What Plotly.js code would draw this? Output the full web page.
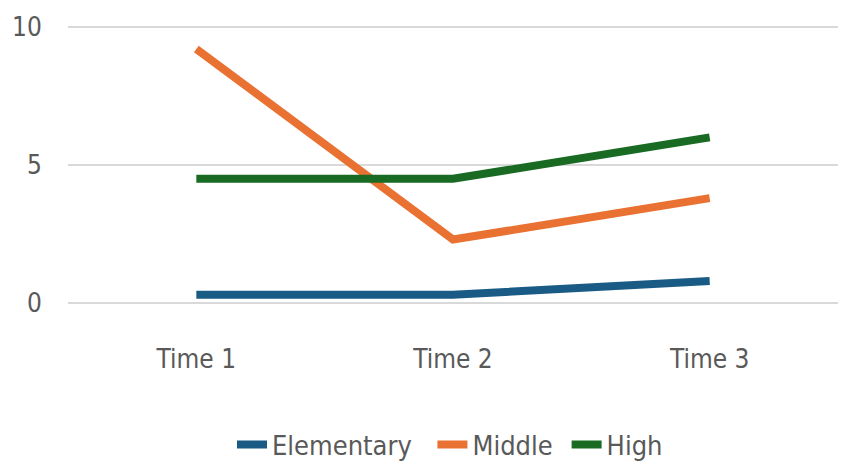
<!DOCTYPE html>
<html>
<head>
<meta charset="utf-8">
<script src="https://cdn.plot.ly/plotly-3.0.1.min.js"></script>
<style>
html,body{margin:0;padding:0;background:#fff;}
#chart{width:841px;height:466px;}
#chart text{font-stretch:condensed !important;}
</style>
</head>
<body>
<div id="chart"></div>
<script>
const categories = ["Time 1", "Time 2", "Time 3"];
const elementary = [0.3, 0.3, 0.8];
const middle = [9.2, 2.3, 3.8];
const high = [4.5, 4.5, 6.0];
const seriesNames = ["Elementary", "Middle", "High"];
const seriesColors = ["#1A5B85", "#E97132", "#196B24"];

const FONT = '"DejaVu Sans", sans-serif';
const values = [elementary, middle, high];
const traces = values.map((v, i) => ({
  x: categories, y: v, type: 'scatter', mode: 'lines', name: seriesNames[i],
  line: {color: seriesColors[i], width: 8}, hoverinfo: 'skip'
}));

const layout = {
  width: 841, height: 466,
  margin: {l: 68, r: 3, t: 25, b: 161, autoexpand: false},
  paper_bgcolor: '#fff', plot_bgcolor: '#fff',
  font: {family: FONT, color: '#595959', size: 26},
  showlegend: true,
  legend: {orientation: 'h', x: 0.5, xanchor: 'center', y: -0.50, yanchor: 'middle',
           font: {family: FONT, size: 27, color: '#595959'}, itemwidth: 30, tracegroupgap: 0},
  xaxis: {type: 'category', range: [-0.5, 2.5], showgrid: false, zeroline: false,
          showline: false, ticks: 'outside', ticklen: 31, tickcolor: 'rgba(0,0,0,0)',
          tickfont: {family: FONT, size: 26, color: '#595959'}, fixedrange: true},
  yaxis: {range: [-0.07, 10.07], tickvals: [0, 5, 10], ticktext: ['0', '5', '10'],
          showgrid: true, gridcolor: '#D9D9D9', gridwidth: 2, zeroline: false, showline: false,
          ticks: 'outside', ticklen: 20, tickcolor: 'rgba(0,0,0,0)',
          tickfont: {family: FONT, size: 26, color: '#595959'}, fixedrange: true},
  hovermode: false
};
Plotly.newPlot('chart', traces, layout, {displayModeBar: false, staticPlot: true});
</script>
</body>
</html>
